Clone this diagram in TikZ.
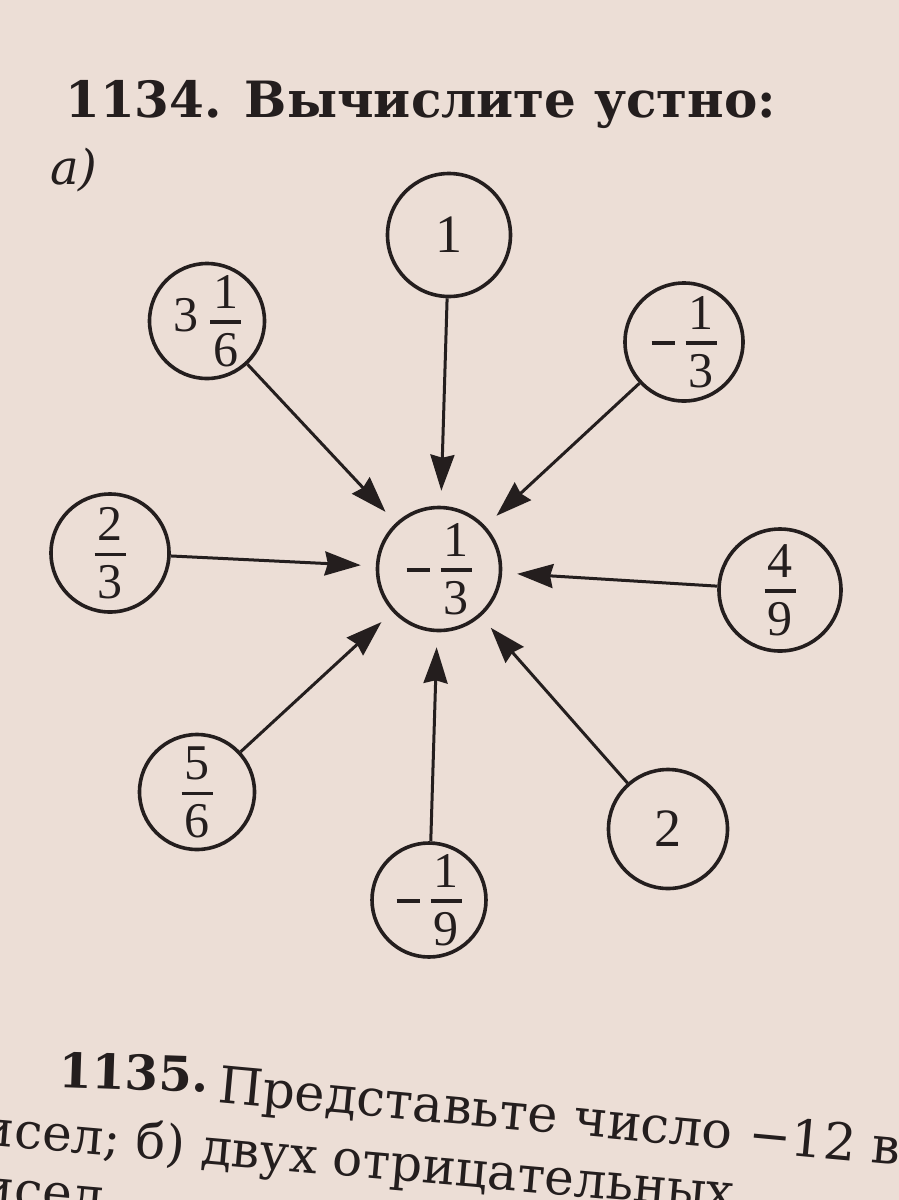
\documentclass[tikz,border=0pt]{standalone}
\usepackage{fontspec}
\setmainfont{DejaVu Serif}
\newfontfamily\digf{Liberation Serif}
\usetikzlibrary{arrows.meta}
\definecolor{paper}{RGB}{236,222,214}
\definecolor{ink}{RGB}{36,30,30}
% stacked fraction: numerator, bar, denominator; baseline = denominator baseline
\newcommand\frb[2]{\vbox{\offinterlineskip\halign{\hfil\kern3pt##\kern3pt\hfil\cr #1\cr\noalign{\kern12pt\hrule height 3.5pt\kern9pt}#2\cr}}}
\newcommand\negfr[2]{\raisebox{42pt}{\rule{23pt}{3.8pt}}\kern11pt\frb{#1}{#2}}
\begin{document}
\begin{tikzpicture}[x=1pt,y=-1pt,
  circ/.style={circle,draw=ink,line width=3.6pt,inner sep=0pt,text=ink},
  big/.style={font=\digf\fontsize{54}{54}\selectfont},
  small/.style={font=\digf\fontsize{50}{50}\selectfont},
  arr/.style={draw=ink,line width=3pt,-{Stealth[length=36pt,width=24pt,inset=3pt]},shorten >=15pt},
  txt/.style={text=ink,inner sep=0pt}]
\useasboundingbox (0,0) rectangle (899,1200);
\fill[paper] (0,0) rectangle (899,1200);
\clip (0,0) rectangle (899,1200);

% heading
\node[txt,anchor=base west,font=\fontsize{50}{54}\selectfont\bfseries] (title) at (65,117) {1134. Вычислите устно:};
\node[txt,anchor=base west,font=\fontsize{48}{52}\selectfont\itshape] (parta) at (50,184) {а)};

% circles
\node[circ,big,minimum size=123pt] (n1) at (449,235) {1};
\node[circ,small,minimum size=115pt] (n316) at (207,321) {\raisebox{35pt}{3}\kern12pt\frb{1}{6}};
\node[circ,small,minimum size=118pt] (nm13) at (684,342) {\negfr{1}{3}};
\node[circ,small,minimum size=123pt] (c) at (439,569) {\negfr{1}{3}};
\node[circ,small,minimum size=118pt] (n23) at (110,553) {\frb{2}{3}};
\node[circ,small,minimum size=122pt] (n49) at (780,590) {\frb{4}{9}};
\node[circ,small,minimum size=115pt] (n56) at (197,792) {\frb{5}{6}};
\node[circ,big,minimum size=119pt] (n2) at (668,829) {2};
\node[circ,small,minimum size=114pt] (nm19) at (429,900) {\negfr{1}{9}};

% arrows
\foreach \s in {n1,n316,nm13,n23,n49,n56,n2,nm19}
  \draw[arr] (\s) -- (c);

% next exercise (photographed with a slant)
\node[txt,anchor=base west,rotate=-2,font=\fontsize{48}{52}\selectfont\bfseries] (num1135) at (58,1087) {1135.};
\node[txt,anchor=base west,rotate=-5.3,font=\fontsize{51}{55}\selectfont] (line1) at (217,1102) {Представьте число −12 в виде};
\node[txt,anchor=base west,rotate=-5,font=\fontsize{50}{54}\selectfont] (line2) at (13,1147) {\llap{чи}сел; б) двух отрицательных};
\node[txt,anchor=base west,rotate=-5,font=\fontsize{50}{54}\selectfont] (line3) at (13,1206) {\llap{чи}сел};
\end{tikzpicture}
\end{document}
